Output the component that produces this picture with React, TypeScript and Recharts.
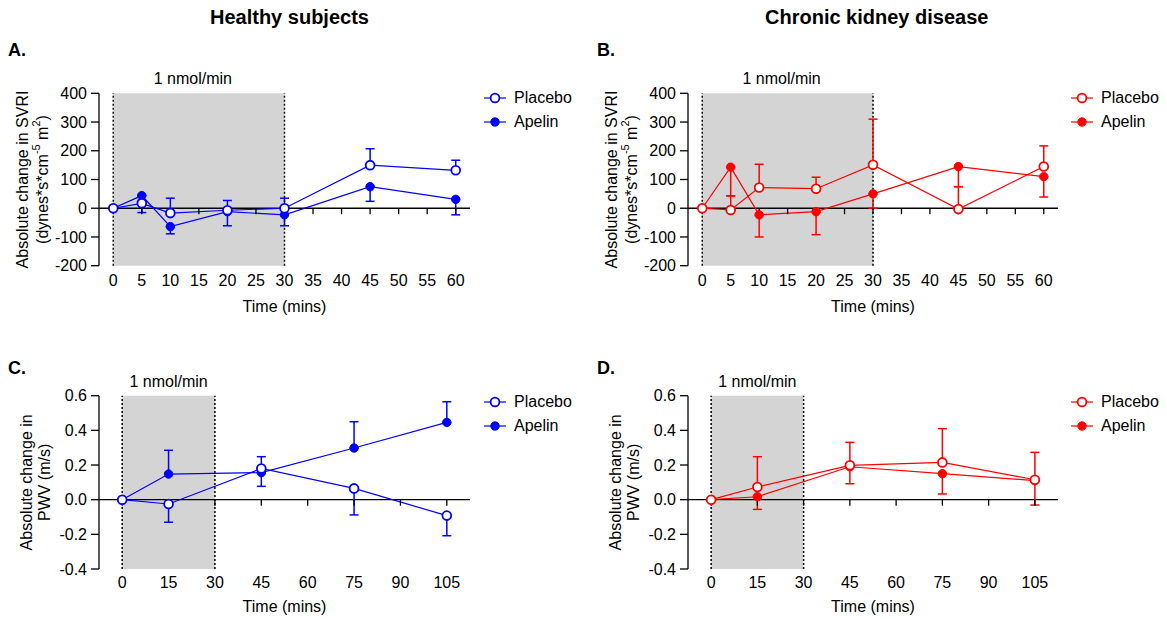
import React from 'react';
import {
  LineChart,
  Line,
  XAxis,
  YAxis,
  ReferenceArea,
  ReferenceLine,
  ReferenceDot,
  ErrorBar,
} from 'recharts';

const FONT = '"Liberation Sans", Arial, Helvetica, sans-serif';
const BLUE = '#0000ff';
const RED = '#ff0000';

// SVRI panels (A, B)
const svriTimes = [0, 5, 10, 20, 30, 45, 60];
const svriTicksX = [0, 5, 10, 15, 20, 25, 30, 35, 40, 45, 50, 55, 60];
const svriTicksY = [-200, -100, 0, 100, 200, 300, 400];

const healthySvriPlacebo = [0, 17, -17, -7, 0, 150, 132];
const healthySvriPlaceboErr = [[0, 0], [0, 10], [0, 52], [0, 34], [0, 35], [0, 57], [0, 35]];
const healthySvriApelin = [0, 44, -64, -12, -23, 75, 31];
const healthySvriApelinErr = [[0, 0], [59, 0], [25, 0], [49, 0], [38, 0], [51, 0], [54, 0]];

const ckdSvriPlacebo = [0, -6, 72, 68, 151, -3, 145];
const ckdSvriPlaceboErr = [[0, 0], [0, 49], [0, 81], [0, 40], [0, 159], [0, 78], [0, 72]];
const ckdSvriApelin = [0, 143, -23, -12, 50, 145, 110];
const ckdSvriApelinErr = [[0, 0], [100, 0], [77, 0], [80, 0], [50, 0], [70, 0], [71, 0]];

// PWV panels (C, D)
const pwvTimes = [0, 15, 45, 75, 105];
const pwvTicksX = [0, 15, 30, 45, 60, 75, 90, 105];
const pwvTicksY = [-0.4, -0.2, 0, 0.2, 0.4, 0.6];

const healthyPwvPlacebo = [0, -0.025, 0.18, 0.065, -0.092];
const healthyPwvPlaceboErr = [[0, 0], [0.105, 0], [0, 0.068], [0.153, 0], [0.116, 0]];
const healthyPwvApelin = [0, 0.148, 0.156, 0.298, 0.446];
const healthyPwvApelinErr = [[0, 0], [0, 0.137], [0.079, 0], [0, 0.152], [0, 0.119]];

const ckdPwvPlacebo = [0, 0.073, 0.198, 0.215, 0.115];
const ckdPwvPlaceboErr = [[0, 0], [0, 0.175], [0, 0.133], [0, 0.195], [0, 0.158]];
const ckdPwvApelin = [0, 0.017, 0.19, 0.15, 0.11];
const ckdPwvApelinErr = [[0, 0], [0.073, 0], [0.098, 0], [0.117, 0], [0.141, 0]];

function buildRows(times: number[], placebo: number[], placeboErr: number[][], apelin: number[], apelinErr: number[][]) {
  return times.map((t, i) => ({
    t,
    placebo: placebo[i],
    placeboErr: placeboErr[i],
    apelin: apelin[i],
    apelinErr: apelinErr[i],
  }));
}

const svriLabel = [
  <>Absolute change in SVRI</>,
  <>
    (dynes*s*cm<tspan dy={-6} fontSize={11}>-5</tspan>
    <tspan dy={6}> m</tspan>
    <tspan dy={-6} fontSize={11}>2</tspan>
    <tspan dy={6}>)</tspan>
  </>,
];
const pwvLabel = [<>Absolute change in</>, <>PWV (m/s)</>];

const makeYLabel = (lines: React.ReactNode[], xs: number[]) => (props: any) => {
  const vb = props.viewBox || { x: 0, y: 0, width: 0, height: 0 };
  const cy = vb.y + vb.height / 2;
  return (
    <g>
      {lines.map((ln, i) => (
        <text
          key={i}
          x={vb.x + xs[i]}
          y={cy}
          transform={`rotate(-90, ${vb.x + xs[i]}, ${cy})`}
          textAnchor="middle"
          dominantBaseline="central"
          fontSize={16}
          fill="#000"
          fontFamily={FONT}
        >
          {ln}
        </text>
      ))}
    </g>
  );
};

const zeroTick = (props: any) => (
  <line x1={props.cx} y1={props.cy} x2={props.cx} y2={props.cy + 6} stroke="#000" strokeWidth={1.3} />
);

interface PanelProps {
  left: number;
  top: number;
  width: number;
  height: number;
  marginTop: number;
  marginRight: number;
  marginBottom: number;
  xAxisHeight: number;
  tickMargin: number;
  rows: any[];
  xDomain: [number, number];
  xTicks: number[];
  yDomain: [number, number];
  yTicks: number[];
  yFmt: (v: number) => string;
  color: string;
  yLabel: React.ReactNode[];
  yLabelX: number[];
  bandDx: number;
}

function Panel(p: PanelProps) {
  const openDot = { r: 4.4, fill: '#fff', stroke: p.color, strokeWidth: 1.8 };
  const fullDot = { r: 4.2, fill: p.color, stroke: p.color, strokeWidth: 1 };
  return (
    <div style={{ position: 'absolute', left: p.left, top: p.top }}>
      <LineChart
        width={p.width}
        height={p.height}
        data={p.rows}
        margin={{ top: p.marginTop, right: p.marginRight, bottom: p.marginBottom, left: 0 }}
        style={{ fontFamily: FONT }}
      >
        <ReferenceArea
          x1={0}
          x2={30}
          fill="#d4d4d4"
          fillOpacity={1}
          stroke="none"
          label={{ value: '1 nmol/min', position: 'top', offset: 9, fill: '#000', fontSize: 16, dx: p.bandDx }}
        />
        <ReferenceLine x={0} stroke="#000" strokeWidth={1.5} strokeDasharray="2 2" />
        <ReferenceLine x={30} stroke="#000" strokeWidth={1.5} strokeDasharray="2 2" />
        <ReferenceLine y={0} stroke="#000" strokeWidth={1.3} />
        {p.xTicks.map((t) => (
          <ReferenceDot key={t} x={t} y={0} r={0} shape={zeroTick} />
        ))}
        <XAxis
          type="number"
          dataKey="t"
          domain={p.xDomain}
          ticks={p.xTicks}
          interval={0}
          allowDataOverflow
          axisLine={false}
          tickLine={false}
          tickSize={6}
          tickMargin={p.tickMargin}
          height={p.xAxisHeight}
          tick={{ fill: '#000', fontSize: 16 }}
          label={{ value: 'Time (mins)', position: 'insideBottom', offset: 0, fill: '#000', fontSize: 16 }}
        />
        <YAxis
          type="number"
          domain={p.yDomain}
          ticks={p.yTicks}
          interval={0}
          allowDataOverflow
          width={99}
          tickSize={8}
          tickMargin={4}
          axisLine={{ stroke: '#000', strokeWidth: 1.3 }}
          tickLine={{ stroke: '#000', strokeWidth: 1.3 }}
          tick={{ fill: '#000', fontSize: 16 }}
          tickFormatter={p.yFmt}
          label={{ content: makeYLabel(p.yLabel, p.yLabelX) }}
        />
        {/* lines with error bars */}
        <Line type="linear" dataKey="apelin" stroke={p.color} strokeWidth={1.2} dot={false} activeDot={false} isAnimationActive={false}>
          <ErrorBar dataKey="apelinErr" width={4.5} stroke={p.color} strokeWidth={1.5} direction="y" />
        </Line>
        <Line type="linear" dataKey="placebo" stroke={p.color} strokeWidth={1.2} dot={false} activeDot={false} isAnimationActive={false}>
          <ErrorBar dataKey="placeboErr" width={4.5} stroke={p.color} strokeWidth={1.5} direction="y" />
        </Line>
        {/* markers on top */}
        <Line type="linear" dataKey="apelin" stroke="none" dot={fullDot} activeDot={false} isAnimationActive={false} />
        <Line type="linear" dataKey="placebo" stroke="none" dot={openDot} activeDot={false} isAnimationActive={false} />
      </LineChart>
    </div>
  );
}

function LegendRow({ x, y, color, open, text }: { x: number; y: number; color: string; open: boolean; text: string }) {
  return (
    <div style={{ position: 'absolute', left: x, top: y - 12, height: 24, display: 'flex', alignItems: 'center' }}>
      <svg width={22} height={12} style={{ display: 'block' }}>
        <line x1={0} y1={6} x2={22} y2={6} stroke={color} strokeWidth={1.2} />
        <circle cx={11} cy={6} r={open ? 4.4 : 4.2} fill={open ? '#fff' : color} stroke={color} strokeWidth={open ? 1.8 : 1} />
      </svg>
      <span style={{ marginLeft: 8, fontSize: 16, color: '#000', fontFamily: FONT, whiteSpace: 'nowrap' }}>{text}</span>
    </div>
  );
}

const textStyle: React.CSSProperties = { position: 'absolute', fontFamily: FONT, color: '#000', fontWeight: 'bold', whiteSpace: 'nowrap' };

export default function App() {
  const svriCommon = {
    width: 0,
    height: 260,
    marginTop: 33.3,
    marginBottom: 8.3,
    xAxisHeight: 46,
    tickMargin: 3,
    xDomain: [-2.5, 62.5] as [number, number],
    xTicks: svriTicksX,
    yDomain: [-200, 400] as [number, number],
    yTicks: svriTicksY,
    yFmt: (v: number) => String(v),
    yLabel: svriLabel,
    yLabelX: [22, 42],
    bandDx: -6,
  };
  const pwvCommon = {
    width: 0,
    height: 257,
    marginTop: 33.7,
    marginBottom: 7,
    xAxisHeight: 43,
    tickMargin: 2,
    xDomain: [-7.5, 112.5] as [number, number],
    xTicks: pwvTicksX,
    yDomain: [-0.4, 0.6] as [number, number],
    yTicks: pwvTicksY,
    yFmt: (v: number) => v.toFixed(1),
    yLabel: pwvLabel,
    yLabelX: [27, 45],
    bandDx: 0,
  };

  return (
    <div style={{ position: 'absolute', left: 0, top: 0, width: 1167, height: 619, background: '#fff', overflow: 'hidden' }}>
      <div style={{ ...textStyle, left: 210, top: 6, fontSize: 20 }}>Healthy subjects</div>
      <div style={{ ...textStyle, left: 765, top: 6, fontSize: 20 }}>Chronic kidney disease</div>
      <div style={{ ...textStyle, left: 8, top: 40, fontSize: 18 }}>A.</div>
      <div style={{ ...textStyle, left: 597, top: 40, fontSize: 18 }}>B.</div>
      <div style={{ ...textStyle, left: 8, top: 358, fontSize: 18 }}>C.</div>
      <div style={{ ...textStyle, left: 597, top: 358, fontSize: 18 }}>D.</div>

      <Panel
        {...svriCommon}
        left={0}
        top={60}
        width={589}
        marginRight={119}
        color={BLUE}
        rows={buildRows(svriTimes, healthySvriPlacebo, healthySvriPlaceboErr, healthySvriApelin, healthySvriApelinErr)}
      />
      <Panel
        {...svriCommon}
        left={589}
        top={60}
        width={578}
        marginRight={109}
        color={RED}
        rows={buildRows(svriTimes, ckdSvriPlacebo, ckdSvriPlaceboErr, ckdSvriApelin, ckdSvriApelinErr)}
      />
      <Panel
        {...pwvCommon}
        left={0}
        top={362}
        width={589}
        marginRight={119}
        color={BLUE}
        rows={buildRows(pwvTimes, healthyPwvPlacebo, healthyPwvPlaceboErr, healthyPwvApelin, healthyPwvApelinErr)}
      />
      <Panel
        {...pwvCommon}
        left={589}
        top={362}
        width={578}
        marginRight={109}
        color={RED}
        rows={buildRows(pwvTimes, ckdPwvPlacebo, ckdPwvPlaceboErr, ckdPwvApelin, ckdPwvApelinErr)}
      />

      <LegendRow x={484} y={97.7} color={BLUE} open text="Placebo" />
      <LegendRow x={484} y={122.3} color={BLUE} open={false} text="Apelin" />
      <LegendRow x={1071} y={97.7} color={RED} open text="Placebo" />
      <LegendRow x={1071} y={122.3} color={RED} open={false} text="Apelin" />
      <LegendRow x={484} y={401.7} color={BLUE} open text="Placebo" />
      <LegendRow x={484} y={425.7} color={BLUE} open={false} text="Apelin" />
      <LegendRow x={1071} y={401.7} color={RED} open text="Placebo" />
      <LegendRow x={1071} y={425.7} color={RED} open={false} text="Apelin" />
    </div>
  );
}
